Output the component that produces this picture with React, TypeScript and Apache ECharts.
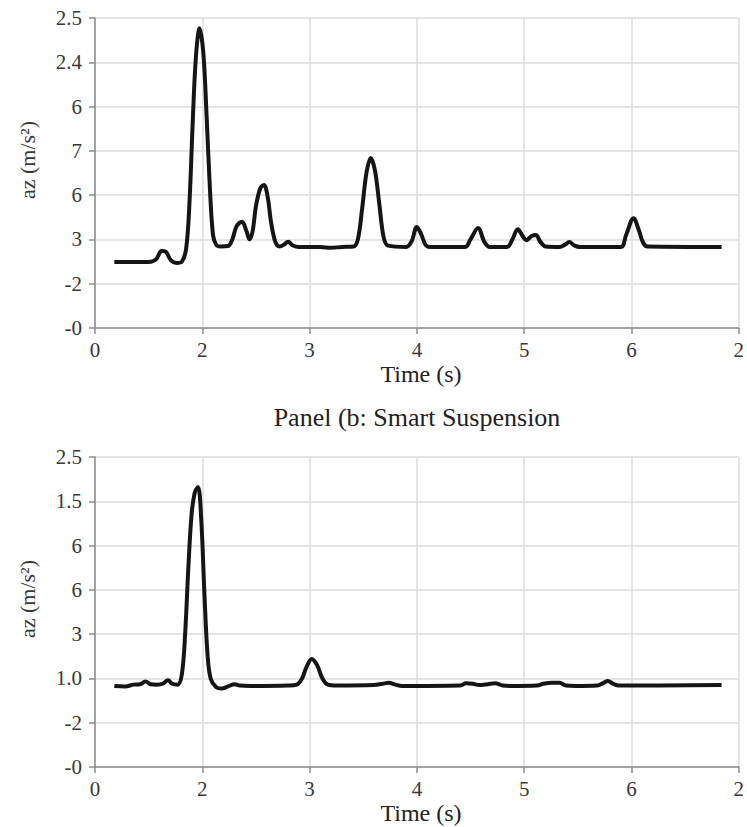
import React, { useEffect, useRef } from "react";
import * as echarts from "echarts";

const xTickLabels = ["0", "2", "3", "4", "5", "6", "2"];
const topYTickLabels = ["-0", "-2", "3", "6", "7", "6", "2.4", "2.5"];
const bottomYTickLabels = ["-0", "-2", "1.0", "3", "6", "6", "1.5", "2.5"];

const yAxisTitle = "az (m/s²)";
const xAxisTitle = "Time (s)";
const bottomPanelTitle = "Panel (b: Smart Suspension";

const topTime = [
  0.18, 0.5, 0.57, 0.62, 0.66, 0.71, 0.76, 0.81, 0.85, 0.88, 0.91, 0.94, 0.975, 1.01, 1.04, 1.07, 1.1, 1.13,
  1.17, 1.24, 1.28, 1.32, 1.37, 1.41, 1.44, 1.47, 1.5, 1.54, 1.575, 1.61, 1.64, 1.68, 1.72, 1.76, 1.8, 1.84,
  1.9, 2.1, 2.2, 2.3, 2.41, 2.45, 2.49, 2.53, 2.57, 2.61, 2.65, 2.69, 2.73, 2.9, 2.95, 3.0, 3.04,
  3.08, 3.12, 3.45, 3.5, 3.57, 3.63, 3.68, 3.84, 3.89, 3.94, 3.99, 4.02, 4.07, 4.11, 4.15, 4.2,
  4.33, 4.38, 4.42, 4.47, 4.52, 4.9, 4.95, 5.02, 5.07, 5.11, 5.15, 5.84,
];
const topAz = [
  1.49, 1.49, 1.55, 1.74, 1.72, 1.52, 1.47, 1.5, 1.8, 2.8, 4.6, 6.1, 6.77, 6.2, 4.8, 3.2, 2.1, 1.88,
  1.84, 1.85, 2.0, 2.3, 2.4, 2.2, 2.0, 2.2, 2.75, 3.15, 3.23, 2.95, 2.4, 1.95, 1.84, 1.88, 1.95, 1.87,
  1.83, 1.83, 1.81, 1.83, 1.84, 2.0, 2.7, 3.5, 3.84, 3.55, 2.8, 2.05, 1.86, 1.83, 1.95, 2.28, 2.12,
  1.88, 1.83, 1.83, 2.0, 2.26, 1.94, 1.83, 1.83, 2.0, 2.23, 2.06, 1.98, 2.08, 2.1, 1.95, 1.84,
  1.83, 1.88, 1.94, 1.86, 1.83, 1.83, 2.1, 2.48, 2.2, 1.92, 1.84, 1.83,
];

const bottomTime = [
  0.18, 0.28, 0.36, 0.42, 0.47, 0.52, 0.58, 0.63, 0.68, 0.72, 0.77, 0.81, 0.84, 0.87, 0.9, 0.93, 0.96,
  0.99, 1.02, 1.05, 1.08, 1.13, 1.18, 1.24, 1.3, 1.35, 1.45, 1.8, 1.88, 1.93, 1.97, 2.02, 2.07, 2.12,
  2.17, 2.25, 2.6, 2.68, 2.74, 2.8, 2.86, 3.4, 3.46, 3.52, 3.58, 3.66, 3.73, 3.8, 3.88, 4.12, 4.18,
  4.26, 4.33, 4.39, 4.48, 4.68, 4.74, 4.78, 4.83, 4.88, 5.84,
];
const bottomAz = [
  1.83, 1.82, 1.86, 1.87, 1.93, 1.87, 1.86, 1.88, 1.96, 1.88, 1.86, 2.1, 3.0, 4.5, 5.7, 6.2, 6.32,
  5.6, 3.9, 2.5, 1.98, 1.8, 1.77, 1.82, 1.87, 1.84, 1.83, 1.84, 1.86, 2.0, 2.25, 2.44, 2.3,
  2.0, 1.86, 1.84, 1.85, 1.88, 1.9, 1.86, 1.83, 1.84, 1.89, 1.88, 1.85, 1.87, 1.89, 1.84, 1.83, 1.84, 1.88,
  1.9, 1.9, 1.84, 1.83, 1.84, 1.9, 1.94, 1.88, 1.84, 1.85,
];

const FONT = "Liberation Serif, Times New Roman, serif";
const TEXT = "#383838";

export default function App() {
  const ref = useRef<HTMLDivElement>(null);

  useEffect(() => {
    if (!ref.current) return;
    const chart = echarts.init(ref.current, undefined, { renderer: "svg" });

    const mkX = (gridIndex: number) => ({
      type: "value" as const,
      gridIndex,
      min: 0,
      max: 6,
      interval: 1,
      axisLine: { show: true, lineStyle: { color: "#8c8c8c", width: 1.5 } },
      axisTick: { show: true, length: 6, lineStyle: { color: "#8c8c8c", width: 1.5 } },
      axisLabel: {
        fontFamily: FONT,
        fontSize: 21,
        color: TEXT,
        margin: 11,
        formatter: (v: number) => xTickLabels[Math.round(v)] ?? "",
      },
      splitLine: { show: true, lineStyle: { color: "#dcdcdc", width: 1.5 } },
    });

    const mkY = (gridIndex: number, labels: string[]) => ({
      type: "value" as const,
      gridIndex,
      min: 0,
      max: 7,
      interval: 1,
      axisLine: { show: true, lineStyle: { color: "#8c8c8c", width: 1.5 } },
      axisTick: { show: true, length: 6, lineStyle: { color: "#8c8c8c", width: 1.5 } },
      axisLabel: {
        fontFamily: FONT,
        fontSize: 21,
        color: TEXT,
        margin: 13,
        formatter: (v: number) => labels[Math.round(v)] ?? "",
      },
      splitLine: { show: true, lineStyle: { color: "#dcdcdc", width: 1.5 } },
    });

    const lineStyle = { color: "#151515", width: 4 };

    chart.setOption({
      animation: false,
      backgroundColor: "#ffffff",
      grid: [
        { left: 95, top: 18, width: 650, height: 310 },
        { left: 95, top: 457, width: 650, height: 310 },
      ],
      xAxis: [mkX(0), mkX(1)],
      yAxis: [mkY(0, topYTickLabels), mkY(1, bottomYTickLabels)],
      series: [
        {
          type: "line",
          xAxisIndex: 0,
          yAxisIndex: 0,
          data: topTime.map((t, i) => [t, topAz[i]]),
          showSymbol: false,
          smooth: 0.35,
          lineStyle,
        },
        {
          type: "line",
          xAxisIndex: 1,
          yAxisIndex: 1,
          data: bottomTime.map((t, i) => [t, bottomAz[i]]),
          showSymbol: false,
          smooth: 0.35,
          lineStyle,
        },
      ],
      graphic: [
        {
          type: "text",
          x: 27,
          y: 160,
          rotation: Math.PI / 2,
          style: { text: yAxisTitle, fontFamily: FONT, fontSize: 22, fill: TEXT, align: "center", verticalAlign: "middle" },
        },
        {
          type: "text",
          x: 27,
          y: 599,
          rotation: Math.PI / 2,
          style: { text: yAxisTitle, fontFamily: FONT, fontSize: 22, fill: TEXT, align: "center", verticalAlign: "middle" },
        },
        {
          type: "text",
          x: 421,
          y: 374,
          style: { text: xAxisTitle, fontFamily: FONT, fontSize: 24, fill: "#222", align: "center", verticalAlign: "middle" },
        },
        {
          type: "text",
          x: 421,
          y: 813,
          style: { text: xAxisTitle, fontFamily: FONT, fontSize: 24, fill: "#222", align: "center", verticalAlign: "middle" },
        },
        {
          type: "text",
          x: 417,
          y: 417,
          style: { text: bottomPanelTitle, fontFamily: FONT, fontSize: 26, fill: "#222", align: "center", verticalAlign: "middle" },
        },
      ],
    });

    return () => chart.dispose();
  }, []);

  return <div ref={ref} style={{ position: "absolute", left: 0, top: 0, width: 747, height: 827 }} />;
}
